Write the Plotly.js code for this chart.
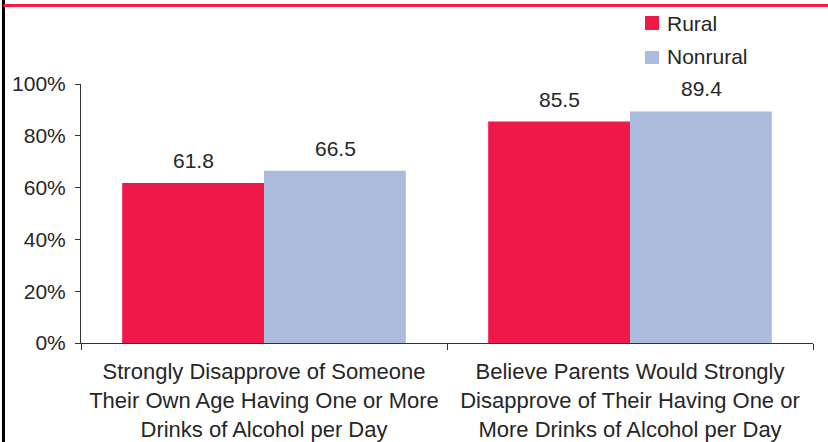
<!DOCTYPE html>
<html>
<head>
<meta charset="utf-8">
<script src="https://cdn.plot.ly/plotly-3.0.1.min.js"></script>
<style>html,body{margin:0;padding:0;background:#fff;}#chart{width:828px;height:442px;}</style>
</head>
<body>
<div id="chart"></div>
<script>
const categories = [
  "Strongly Disapprove of Someone<br>Their Own Age Having One or More<br>Drinks of Alcohol per Day",
  "Believe Parents Would Strongly<br>Disapprove of Their Having One or<br>More Drinks of Alcohol per Day"
];
const seriesNames = ["Rural", "Nonrural"];
const ruralValues = [61.8, 85.5];
const nonruralValues = [66.5, 89.4];
const yTickValues = [0, 20, 40, 60, 80, 100];
const yTickLabels = ["0%", "20%", "40%", "60%", "80%", "100%"];

const colors = ["#EE1849", "#AABBDD"];
const textColor = "#262626";
const font = "Liberation Sans, Arial, sans-serif";

const traces = [
  {type: "bar", name: seriesNames[0], x: categories, y: ruralValues, marker: {color: colors[0]}, hoverinfo: "none"},
  {type: "bar", name: seriesNames[1], x: categories, y: nonruralValues, marker: {color: colors[1]}, hoverinfo: "none"}
];

const annotations = [];
[ruralValues, nonruralValues].forEach((vals, s) => {
  vals.forEach((v, i) => {
    annotations.push({
      x: categories[i], y: v, xref: "x", yref: "y",
      text: v.toFixed(1), showarrow: false,
      xshift: s === 0 ? -71 : 71, yanchor: "bottom", yshift: 9,
      font: {family: font, size: 21, color: textColor}
    });
  });
});

// custom legend (positions in paper units)
const legendRows = [
  {sq: [1.2085, 1.2625], txt: 1.2317},
  {sq: [1.0772, 1.1274], txt: 1.1081}
];
const shapes = [
  {type: "line", xref: "paper", yref: "paper", x0: -0.1059, x1: -0.1059, y0: 1.33, y1: -0.39, line: {color: "#000", width: 3}},
  {type: "line", xref: "paper", yref: "paper", x0: -0.1059, x1: 1.03, y0: 1.3031, y1: 1.3031, line: {color: "#FF1744", width: 3}}
];
seriesNames.forEach((name, s) => {
  shapes.push({type: "rect", xref: "paper", yref: "paper", x0: 0.7705, x1: 0.7896,
    y0: legendRows[s].sq[0], y1: legendRows[s].sq[1], fillcolor: colors[s], line: {width: 0}});
  annotations.push({xref: "paper", yref: "paper", x: 0.7978, y: legendRows[s].txt,
    xanchor: "left", yanchor: "middle", text: name, showarrow: false,
    font: {family: font, size: 21, color: textColor}});
});

const layout = {
  width: 828, height: 442,
  margin: {l: 81, r: 15, t: 84, b: 99, autoexpand: false},
  paper_bgcolor: "#fff", plot_bgcolor: "#fff",
  barmode: "group", bargap: 0.225, bargroupgap: 0,
  showlegend: false,
  xaxis: {
    showline: true, linecolor: "#333", linewidth: 1,
    ticks: "outside", tickson: "boundaries", ticklen: 6, tickcolor: "#333",
    ticklabelstandoff: 9,
    tickfont: {family: font, size: 22, color: textColor},
    showgrid: false, zeroline: false, fixedrange: true, automargin: false
  },
  yaxis: {
    range: [0, 100], tickvals: yTickValues, ticktext: yTickLabels,
    showline: true, linecolor: "#333", linewidth: 1,
    ticks: "outside", ticklen: 5, tickcolor: "#333",
    ticklabelstandoff: 5,
    tickfont: {family: font, size: 21, color: textColor},
    showgrid: false, zeroline: false, fixedrange: true, automargin: false
  },
  annotations: annotations,
  shapes: shapes
};

Plotly.newPlot("chart", traces, layout, {displayModeBar: false, staticPlot: true});
</script>
</body>
</html>
